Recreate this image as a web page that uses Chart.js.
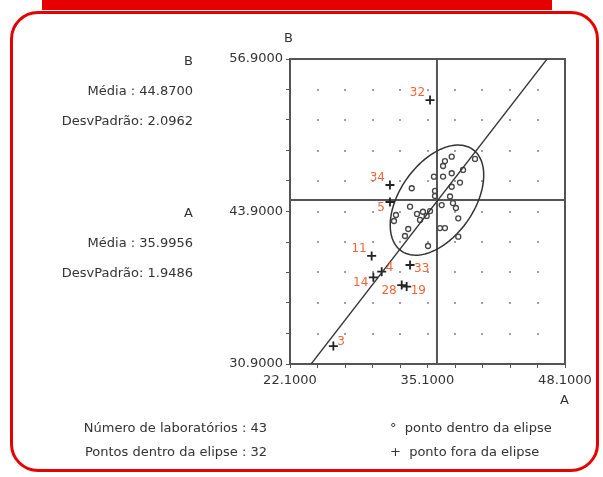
<!DOCTYPE html>
<html><head><meta charset="utf-8">
<script src="https://cdn.jsdelivr.net/npm/chart.js@4.4.0/dist/chart.umd.min.js"></script>
<style>
html,body{margin:0;padding:0;background:#fff;}
body{width:603px;height:477px;position:relative;overflow:hidden;font-family:"DejaVu Sans",sans-serif;color:#333;}
#bar{position:absolute;left:42px;top:0;width:510px;height:10px;background:#e60000;}
#frame{position:absolute;left:10px;top:11px;width:589px;height:461px;border:3px solid #e60000;border-radius:28px;box-sizing:border-box;}
#c{position:absolute;left:0;top:0;}
.t{position:absolute;font-size:13px;line-height:15px;white-space:nowrap;}
.r{text-align:right;}
</style></head>
<body>
<div id="bar"></div>
<div id="frame"></div>
<canvas id="c" width="603" height="477"></canvas>
<div class="t r" style="right:410px;top:53px;">B</div>
<div class="t r" style="right:410px;top:83px;">Média : 44.8700</div>
<div class="t r" style="right:410px;top:113px;">DesvPadrão: 2.0962</div>
<div class="t r" style="right:410px;top:205px;">A</div>
<div class="t r" style="right:410px;top:235px;">Média : 35.9956</div>
<div class="t r" style="right:410px;top:265px;">DesvPadrão: 1.9486</div>
<div class="t" style="left:284px;top:30px;">B</div>
<div class="t" style="left:560px;top:392px;">A</div>
<div class="t r" style="right:336px;top:420px;">Número de laboratórios : 43</div>
<div class="t r" style="right:336px;top:444px;">Pontos dentro da elipse : 32</div>
<div class="t" style="left:390px;top:420px;">°&nbsp; ponto dentro da elipse</div>
<div class="t" style="left:390px;top:444px;">+&nbsp; ponto fora da elipse</div>
<script>
const xTicks=[22.1,24.7,27.3,29.9,32.5,35.1,37.7,40.3,42.9,45.5,48.1];
const xTickLabels=['22.1000','','','','','35.1000','','','','','48.1000'];
const yTicks=[30.9,33.5,36.1,38.7,41.3,43.9,46.5,49.1,51.7,54.3,56.9];
const yTickLabels=['30.9000','','','','','43.9000','','','','','56.9000'];
const meanA=35.9956, meanB=44.8700;
const insideA=[37.39,36.75,36.57,39.59,37.39,35.71,36.57,38.17,33.61,35.81,37.39,37.23,35.81,33.45,32.12,31.93,34.11,34.67,35.34,35.02,34.39,37.51,37.79,38.01,33.28,32.97,36.28,36.75,36.44,35.15,38.01,38.46];
const insideB=[48.57,48.20,47.78,48.38,47.16,46.87,46.88,46.37,45.88,45.65,46.01,45.18,45.22,44.31,43.60,43.09,43.69,43.88,43.94,43.52,43.18,44.62,44.20,43.32,42.41,41.81,42.49,42.49,44.45,40.96,41.75,47.44];
const outsideIds=['32','34','5','11','14','4','33','28','19','3'];
const outsideA=[35.34,31.55,31.55,29.82,29.98,30.77,33.45,32.66,33.13,26.20];
const outsideB=[53.40,46.16,44.71,40.11,38.29,38.77,39.34,37.63,37.50,32.43];
const outsideLabelSide=['nw','nw','sw','nw','sw','ne','se','sw','se','ne'];
const regA=[24.1,46.4], regB=[30.9,56.9];
const ellipseU=[3.37,4.33], ellipseV=[2.86,-1.81];

const FONT='"DejaVu Sans", sans-serif';
const decor={id:'decor',
 beforeDatasetsDraw(c){
  const {ctx,chartArea:a,scales:{x,y}}=c; ctx.save();
  ctx.fillStyle='#a0a0a0';
  xTicks.slice(1,-1).forEach(vx=>yTicks.slice(1,-1).forEach(vy=>{
    ctx.fillRect(Math.round(x.getPixelForValue(vx))-1,Math.round(y.getPixelForValue(vy))-1,2,2);}));
  ctx.strokeStyle='#555'; ctx.lineWidth=2;
  ctx.strokeRect(a.left,a.top,a.width,a.height);
  const mx=x.getPixelForValue(meanA), my=y.getPixelForValue(meanB);
  ctx.beginPath(); ctx.moveTo(mx,a.top); ctx.lineTo(mx,a.bottom); ctx.moveTo(a.left,my); ctx.lineTo(a.right,my); ctx.stroke();
  const ux=x.getPixelForValue(meanA+ellipseU[0])-mx, uy=y.getPixelForValue(meanB+ellipseU[1])-my;
  const vx=x.getPixelForValue(meanA+ellipseV[0])-mx, vy=y.getPixelForValue(meanB+ellipseV[1])-my;
  ctx.beginPath();
  for(let i=0;i<=144;i++){const t=i/144*2*Math.PI;const px=mx+ux*Math.cos(t)+vx*Math.sin(t),py=my+uy*Math.cos(t)+vy*Math.sin(t);i?ctx.lineTo(px,py):ctx.moveTo(px,py);}
  ctx.closePath(); ctx.lineWidth=1.5; ctx.strokeStyle='#333'; ctx.stroke();
  ctx.restore();
 },
 afterDatasetsDraw(c){
  const {ctx}=c; const meta=c.getDatasetMeta(2); ctx.save();
  ctx.font='12px '+FONT; ctx.fillStyle='#f0643c'; ctx.textBaseline='middle';
  const off={nw:[-5,-7,'right'],sw:[-5,6,'right'],ne:[4,-4,'left'],se:[4,4,'left']};
  meta.data.forEach((p,i)=>{const o=off[outsideLabelSide[i]];ctx.textAlign=o[2];ctx.fillText(outsideIds[i],p.x+o[0],p.y+o[1]);});
  ctx.restore();
 }
};

new Chart(document.getElementById('c'),{
 data:{datasets:[
  {type:'line',data:regA.map((v,i)=>({x:v,y:regB[i]})),borderColor:'#333',borderWidth:1.3,pointRadius:0,fill:false},
  {type:'scatter',data:insideA.map((v,i)=>({x:v,y:insideB[i]})),pointStyle:'circle',pointRadius:2.5,borderColor:'#444',borderWidth:1.3,backgroundColor:'rgba(255,255,255,0)'},
  {type:'scatter',data:outsideA.map((v,i)=>({x:v,y:outsideB[i]})),pointStyle:'cross',pointRadius:4.5,borderColor:'#222',borderWidth:1.8}
 ]},
 options:{responsive:false,animation:false,devicePixelRatio:1,
  layout:{padding:{left:0,top:59,right:38,bottom:83}},
  plugins:{legend:{display:false},tooltip:{enabled:false}},
  scales:{
   x:{type:'linear',min:22.1,max:48.1,
    afterBuildTicks:s=>{s.ticks=xTicks.map(v=>({value:v}));},
    afterFit:s=>{s.height=30;},
    ticks:{autoSkip:false,maxRotation:0,padding:5,color:'#333',font:{family:FONT,size:13},callback:(v,i)=>xTickLabels[i]},
    grid:{drawOnChartArea:false,drawTicks:true,tickLength:4,color:'#555'},
    border:{display:true,color:'#555',width:2}},
   y:{type:'linear',min:30.9,max:56.9,
    afterBuildTicks:s=>{s.ticks=yTicks.map(v=>({value:v}));},
    afterFit:s=>{s.width=290;},
    ticks:{autoSkip:false,padding:3,color:'#333',font:{family:FONT,size:13},callback:(v,i)=>yTickLabels[i]},
    grid:{drawOnChartArea:false,drawTicks:true,tickLength:4,color:'#555'},
    border:{display:true,color:'#555',width:2}}
  }},
 plugins:[decor]
});
</script>
</body></html>
